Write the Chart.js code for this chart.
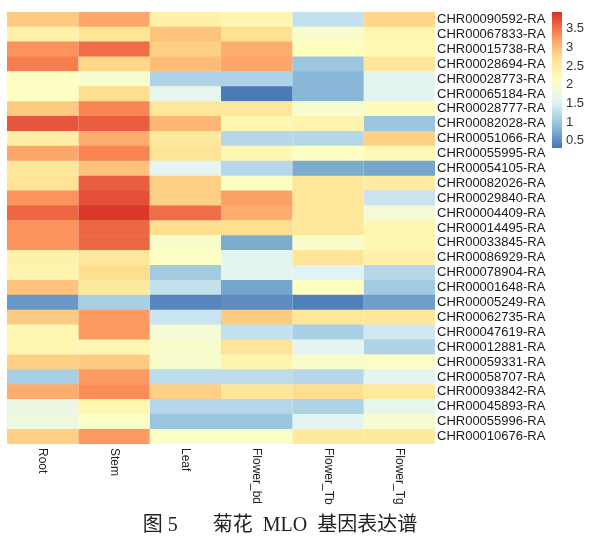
<!DOCTYPE html>
<html>
<head>
<meta charset="utf-8">
<script src="https://cdn.jsdelivr.net/npm/chart.js@4"></script>
<style>
  body { margin: 0; background: #fff; }
  #heatBox { position: absolute; left: 0; top: 0; width: 593px; height: 540px; }
  #barBox { position: absolute; left: 540px; top: 0; width: 53px; height: 160px; }
</style>
</head>
<body>
<div id="heatBox"><canvas id="heat"></canvas></div>
<div id="barBox"><canvas id="bar"></canvas></div>
<script>
var tissues = ['Root', 'Stem', 'Leaf', 'Flower_bd', 'Flower_Tb', 'Flower_Tg'];
var genes = [
     'CHR00090592-RA', 'CHR00067833-RA', 'CHR00015738-RA', 'CHR00028694-RA', 'CHR00028773-RA',
     'CHR00065184-RA', 'CHR00028777-RA', 'CHR00082028-RA', 'CHR00051066-RA', 'CHR00055995-RA',
     'CHR00054105-RA', 'CHR00082026-RA', 'CHR00029840-RA', 'CHR00004409-RA', 'CHR00014495-RA',
     'CHR00033845-RA', 'CHR00086929-RA', 'CHR00078904-RA', 'CHR00001648-RA', 'CHR00005249-RA',
     'CHR00062735-RA', 'CHR00047619-RA', 'CHR00012881-RA', 'CHR00059331-RA', 'CHR00058707-RA',
     'CHR00093842-RA', 'CHR00045893-RA', 'CHR00055996-RA', 'CHR00010676-RA'
];

// expression per tissue, same order as genes
var root     = [2.9, 2.4, 3.3, 3.45, 2.1, 2.1, 2.9, 3.7, 2.45, 3.15, 2.6, 2.65, 3.3, 3.6, 3.3, 3.3, 2.4, 2.35, 2.95, 0.6, 2.9, 2.3, 2.3, 2.85, 1.1, 3.1, 1.75, 1.8, 2.85];
var stem     = [3.15, 2.65, 3.55, 2.8, 1.95, 2.75, 3.4, 3.65, 3.1, 3.4, 2.95, 3.65, 3.75, 3.9, 3.6, 3.6, 2.6, 2.75, 2.55, 1.1, 3.25, 3.25, 2.3, 2.9, 3.25, 3.35, 2.3, 2.05, 3.25];
var leaf     = [2.4, 2.95, 2.85, 3.0, 1.15, 1.65, 2.6, 3.05, 2.55, 2.65, 1.6, 2.85, 2.85, 3.55, 2.75, 2.0, 2.1, 1.05, 1.3, 0.45, 1.35, 1.9, 2.0, 2.0, 1.25, 2.85, 1.2, 1.0, 2.05];
var flowerBd = [2.3, 2.7, 3.1, 3.15, 1.15, 0.35, 2.6, 2.3, 1.2, 2.3, 1.2, 2.1, 3.2, 3.1, 2.75, 0.75, 1.6, 1.6, 0.7, 0.5, 2.9, 1.3, 2.65, 2.35, 1.25, 2.6, 1.2, 1.0, 2.05];
var flowerTb = [1.3, 2.0, 2.15, 1.0, 0.85, 0.85, 1.95, 2.35, 1.2, 2.1, 0.75, 2.6, 2.6, 2.6, 2.6, 2.0, 2.65, 1.55, 2.1, 0.4, 2.6, 1.1, 1.6, 2.0, 1.2, 2.75, 1.15, 1.6, 2.55];
var flowerTg = [2.8, 2.3, 2.25, 2.6, 1.6, 1.6, 2.2, 1.0, 2.85, 2.25, 0.7, 2.5, 1.35, 1.9, 2.3, 2.3, 2.4, 1.2, 1.05, 0.65, 2.6, 1.4, 1.15, 2.05, 1.6, 2.55, 1.65, 1.95, 2.55];
var series = [root, stem, leaf, flowerBd, flowerTb, flowerTg];

var cbTicks = [0.5, 1, 1.5, 2, 2.5, 3, 3.5];
var cbMin = 0.31;
var cbMax = 3.95;
var caption = '图 5 \u3000\u2002菊花\u2002MLO\u2002基因表达谱';

var palette = ['#4575B4', '#91BFDB', '#E0F3F8', '#FFFFBF', '#FEE090', '#FC8D59', '#D73027'];

var hexRgb = function (h) {
     return [parseInt(h.substr(1, 2), 16), parseInt(h.substr(3, 2), 16), parseInt(h.substr(5, 2), 16)];
}
var heatColor = function (v) {
     var t = (v - cbMin) / (cbMax - cbMin) * (palette.length - 1);
     t = Math.max(0, Math.min(palette.length - 1, t));
     var i = Math.min(Math.floor(t), palette.length - 2);
     var f = t - i;
     var a = hexRgb(palette[i]), b = hexRgb(palette[i + 1]);
     var c = [0, 1, 2].map(function (k) { return Math.round(a[k] + (b[k] - a[k]) * f); });
     return 'rgb(' + c.join(',') + ')';
}

// column labels rotated clockwise like pheatmap, plus the figure caption
var colLabels = {
     id: 'colLabels',
     afterDraw: function (chart) {
          var ctx = chart.ctx;
          var xs = chart.scales.x;
          var top = chart.chartArea.bottom + 4;
          ctx.save();
          ctx.font = '12px "Liberation Sans", Arial, sans-serif';
          ctx.fillStyle = '#222';
          ctx.textAlign = 'left';
          ctx.textBaseline = 'middle';
          tissues.forEach(function (name, i) {
               ctx.save();
               ctx.translate(xs.getPixelForValue(i + 0.5), top);
               ctx.rotate(Math.PI / 2);
               ctx.fillText(name, 0, 0);
               ctx.restore();
          });
          ctx.font = '20px "Liberation Serif", "Noto Sans CJK SC", serif';
          ctx.textAlign = 'center';
          ctx.fillText(caption, 280, 526);
          ctx.restore();
     }
};

var datasets = tissues.map(function (name, i) {
     return {
          label: name,
          data: genes.map(function () { return 1; }),
          backgroundColor: series[i].map(heatColor),
          borderWidth: 0,
          barPercentage: 1.03,
          categoryPercentage: 1
     };
});

window.onload = function () {
     new Chart(document.getElementById('heat').getContext('2d'), {
          type: 'bar',
          data: { labels: genes, datasets: datasets },
          options: {
               indexAxis: 'y',
               responsive: true,
               maintainAspectRatio: false,
               animation: false,
               layout: { padding: { left: 7, top: 12, right: 0, bottom: 0 } },
               plugins: {
                    legend: { display: false },
                    tooltip: { enabled: false }
               },
               scales: {
                    x: {
                         type: 'linear',
                         stacked: true,
                         min: 0,
                         max: tissues.length,
                         grid: { display: false, drawTicks: false },
                         border: { display: false },
                         ticks: { display: false },
                         afterFit: function (s) { s.height = 96; }
                    },
                    y: {
                         stacked: true,
                         position: 'right',
                         grid: { display: false, drawTicks: false },
                         border: { display: false },
                         ticks: {
                              color: '#1a1a1a',
                              padding: 2,
                              autoSkip: false,
                              font: { family: '"Liberation Sans", Arial, sans-serif', size: 13 }
                         },
                         afterFit: function (s) { s.width = 158; }
                    }
               }
          },
          plugins: [colLabels]
     });

     // colour key
     new Chart(document.getElementById('bar').getContext('2d'), {
          type: 'bar',
          data: {
               labels: [''],
               datasets: [{
                    data: [[cbMin, cbMax]],
                    borderWidth: 0,
                    barPercentage: 1,
                    categoryPercentage: 1,
                    backgroundColor: function (c) {
                         var area = c.chart.chartArea;
                         if (!area) return palette[3];
                         var g = c.chart.ctx.createLinearGradient(0, area.bottom, 0, area.top);
                         palette.forEach(function (col, i) { g.addColorStop(i / (palette.length - 1), col); });
                         return g;
                    }
               }]
          },
          options: {
               responsive: true,
               maintainAspectRatio: false,
               animation: false,
               layout: { padding: { left: 12, top: 12, right: 0, bottom: 12 } },
               plugins: { legend: { display: false }, tooltip: { enabled: false } },
               scales: {
                    x: { display: false },
                    y: {
                         position: 'right',
                         min: cbMin,
                         max: cbMax,
                         grid: { display: false, drawTicks: false },
                         border: { display: false },
                         afterBuildTicks: function (s) {
                              s.ticks = cbTicks.map(function (v) { return { value: v }; });
                         },
                         ticks: {
                              color: '#333',
                              padding: 4,
                              font: { family: '"Liberation Sans", Arial, sans-serif', size: 13 },
                              callback: function (v) { return String(v); }
                         },
                         afterFit: function (s) { s.width = 31; }
                    }
               }
          }
     });
};
</script>
</body>
</html>
